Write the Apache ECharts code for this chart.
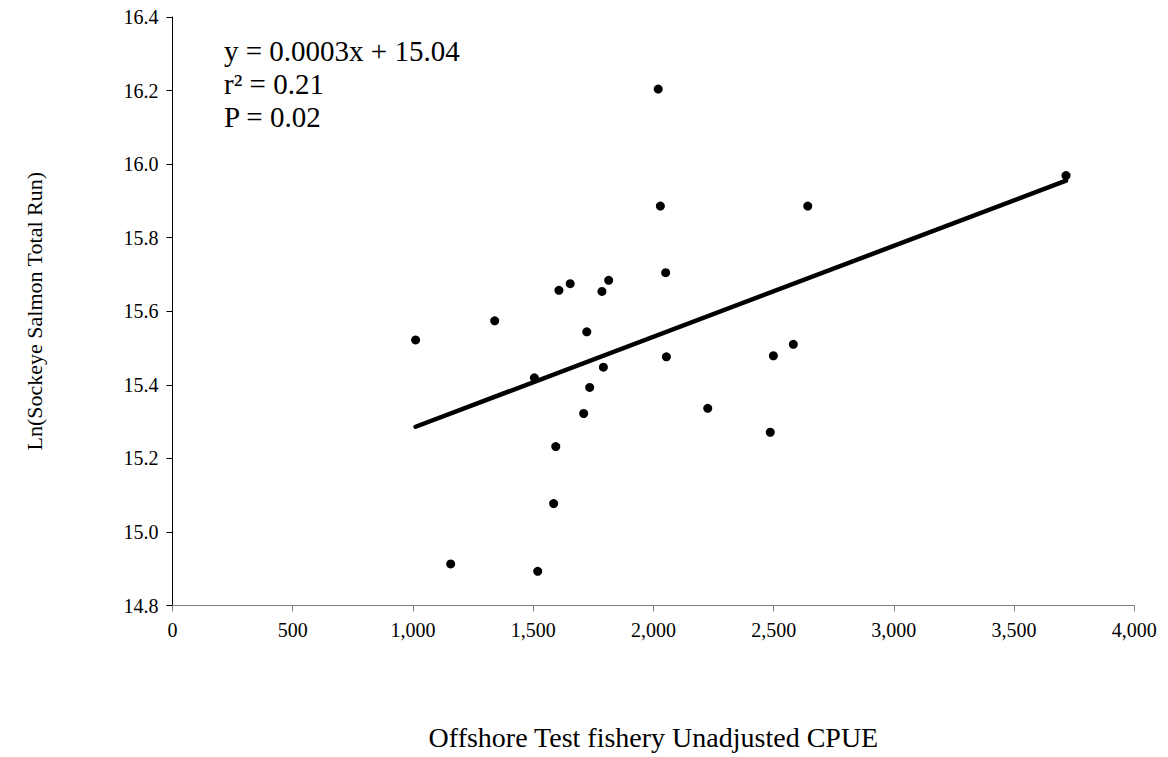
<!DOCTYPE html>
<html>
<head>
<meta charset="utf-8">
<script src="https://cdn.jsdelivr.net/npm/echarts@6/dist/echarts.min.js"></script>
<style>
  html, body { margin: 0; padding: 0; background: #fff; }
  #chart { width: 1168px; height: 757px; }
</style>
</head>
<body>
<div id="chart"></div>
<script>
// Offshore test fishery CPUE against log total sockeye run, one point per year
const cpue = [1011, 1340, 1607, 1654, 1786, 1814, 2051, 1723, 1505, 1792, 1735, 1710, 2054,
              1594, 1585, 1157, 1519, 2020, 2029, 2642, 3716, 2499, 2582, 2226, 2486];
const lnRun = [15.522, 15.574, 15.657, 15.675, 15.654, 15.684, 15.705, 15.544, 15.419, 15.448,
               15.393, 15.322, 15.476, 15.232, 15.077, 14.913, 14.893, 16.204, 15.886, 15.886,
               15.969, 15.479, 15.510, 15.336, 15.271];

// Fitted line end points (y = 0.0003x + 15.04)
const fitX = [1011, 3716];
const fitY = [15.286, 15.955];

const statLines = ['y = 0.0003x + 15.04', 'r\u00B2 = 0.21', 'P = 0.02'];

const xTicks = { min: 0, max: 4000, interval: 500 };
const yTicks = { min: 14.8, max: 16.4, interval: 0.2 };

const font = 'Liberation Serif';

const chart = echarts.init(document.getElementById('chart'), null, { renderer: 'svg' });

chart.setOption({
  backgroundColor: '#fff',
  animation: false,
  title: {
    text: statLines.join('\n'),
    left: 224,
    top: 34,
    padding: 0,
    textStyle: { fontFamily: font, fontSize: 29, fontWeight: 'normal', color: '#000', lineHeight: 33 }
  },
  grid: { left: 172.5, right: 33.7, top: 17, bottom: 151.5, containLabel: false },
  xAxis: {
    type: 'value',
    min: xTicks.min, max: xTicks.max, interval: xTicks.interval,
    name: 'Offshore Test fishery Unadjusted CPUE',
    nameLocation: 'middle',
    nameGap: 118,
    nameTextStyle: { fontFamily: font, fontSize: 28, color: '#000' },
    axisLine: { show: true, onZero: false, lineStyle: { color: '#808080', width: 1 } },
    axisTick: { show: true, length: 6, inside: false, lineStyle: { color: '#808080' } },
    axisLabel: {
      fontFamily: font, fontSize: 20, color: '#000', margin: 14,
      formatter: v => v.toLocaleString('en-US')
    },
    splitLine: { show: false }
  },
  yAxis: {
    type: 'value',
    min: yTicks.min, max: yTicks.max, interval: yTicks.interval,
    name: 'Ln(Sockeye Salmon Total Run)',
    nameLocation: 'middle',
    nameGap: 127,
    nameRotate: 90,
    nameTextStyle: { fontFamily: font, fontSize: 22, color: '#000' },
    axisLine: { show: true, onZero: false, lineStyle: { color: '#000', width: 1 } },
    axisTick: { show: true, length: 6, inside: false, lineStyle: { color: '#000' } },
    axisLabel: {
      fontFamily: font, fontSize: 20, color: '#000', margin: 14,
      formatter: v => v.toFixed(1)
    },
    splitLine: { show: false }
  },
  series: [
    {
      type: 'line',
      data: fitX.map((x, i) => [x, fitY[i]]),
      symbol: 'none',
      lineStyle: { color: '#000', width: 4.5, cap: 'round' },
      z: 2
    },
    {
      type: 'scatter',
      data: cpue.map((x, i) => [x, lnRun[i]]),
      symbol: 'circle',
      symbolSize: 9,
      itemStyle: { color: '#000', opacity: 1 },
      z: 3
    }
  ]
});
</script>
</body>
</html>
